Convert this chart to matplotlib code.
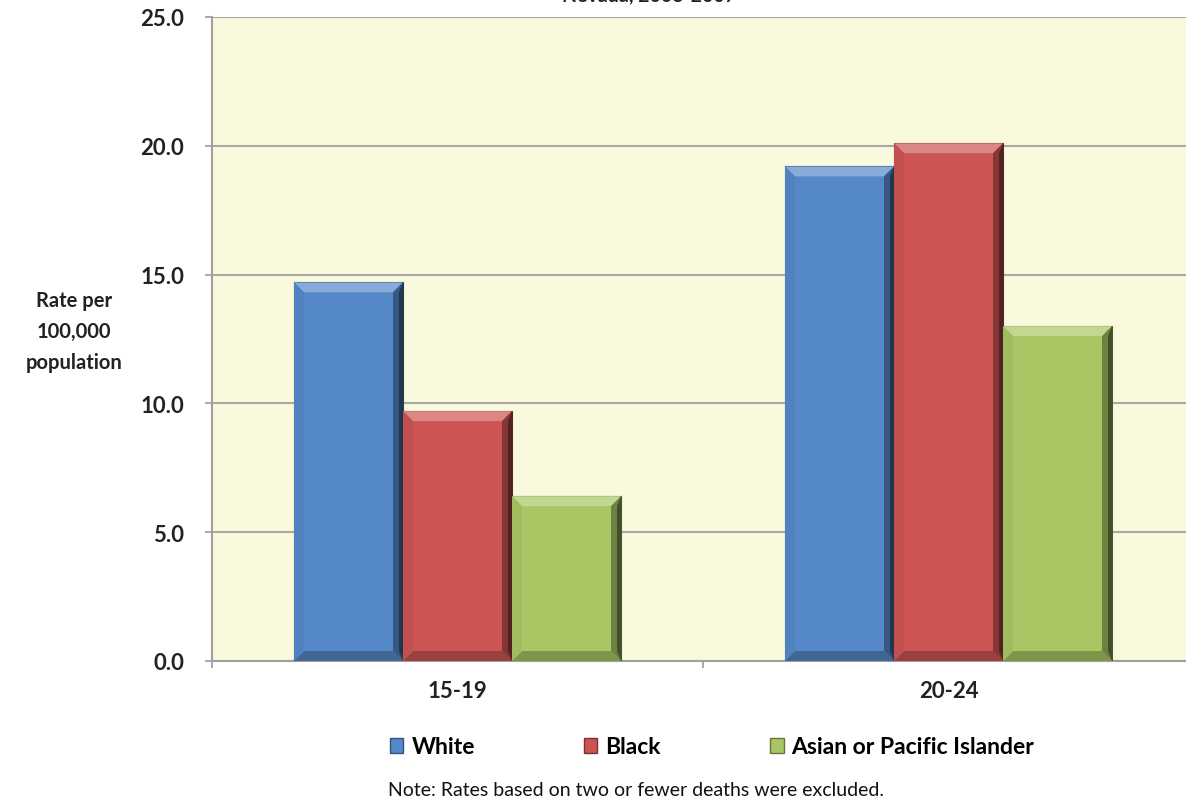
import numpy as np
import matplotlib
matplotlib.use('Agg')
import matplotlib.pyplot as plt
from matplotlib.patches import Polygon, Patch
from matplotlib import colors as mcolors

plt.rcParams['font.family'] = ['Lato', 'DejaVu Sans']

# data
age_groups = ['15-19', '20-24']
races = ['White', 'Black', 'Asian or Pacific Islander']
white = [14.7, 19.2]
black = [9.7, 20.1]
asian = [6.4, 13.0]
series = [white, black, asian]
bar_colors = ['#5588c8', '#cc5452', '#a8c663']
yticks = [0, 5, 10, 15, 20, 25]

fig = plt.figure(figsize=(11.86, 8.04), dpi=100)
ax = fig.add_axes([212/1186, 1-662/804, 982/1186, 644/804])
ax.set_facecolor('#f9f9de')
ax.set_xlim(-0.5, 1.5)
ax.set_ylim(0, 25)

x = np.arange(len(age_groups))
w = 0.222

def shade(c, f):
    r = np.array(mcolors.to_rgb(c))
    if f > 0:
        return tuple(r + (1 - r) * f)
    return tuple(r * (1 + f))

# bevel size in pixels -> data units
fig.canvas.draw()
p0 = ax.transData.transform((0, 0))
p1 = ax.transData.transform((1, 1))
bx = 10 / (p1[0] - p0[0])
by = 10 / (p1[1] - p0[1])
sx = 4 / (p1[0] - p0[0])

for i, vals in enumerate(series):
    c = bar_colors[i]
    bars = ax.bar(x + (i - 1) * w, vals, w, color=c, zorder=3,
                  edgecolor=shade(c, -0.55), linewidth=0.8)
    for b in bars:
        x0, y0 = b.get_x(), b.get_y()
        x1, y1 = x0 + b.get_width(), y0 + b.get_height()
        pieces = [
            ([(x0, y1), (x1, y1), (x1 - bx, y1 - by), (x0 + bx, y1 - by)], shade(c, 0.3)),
            ([(x1, y1), (x1, y0), (x1 - bx, y0 + by), (x1 - bx, y1 - by)], shade(c, -0.35)),
            ([(x0, y0), (x1, y0), (x1 - bx, y0 + by), (x0 + bx, y0 + by)], shade(c, -0.25)),
            ([(x0, y1), (x0, y0), (x0 + bx, y0 + by), (x0 + bx, y1 - by)], shade(c, -0.05)),
            ([(x1 - sx, y1 - by), (x1 - sx, y0 + by), (x1, y0), (x1, y1)], shade(c, -0.6)),
        ]
        for pts, col in pieces:
            ax.add_patch(Polygon(pts, closed=True, facecolor=col, edgecolor='none', zorder=4))

ax.set_yticks(yticks)
ax.set_yticklabels(['%.1f' % t for t in yticks])
ax.yaxis.grid(True, color='#a9a9a0', linewidth=1.5, zorder=0)
ax.set_axisbelow(True)
ax.set_xticks(x)
ax.set_xticklabels(age_groups)
ax.set_xticks([-0.5, 0.5, 1.5], minor=True)
ax.tick_params(axis='x', which='major', length=0, pad=14, labelsize=16)
ax.tick_params(axis='x', which='minor', length=5, width=1.2, color='#999999')
ax.tick_params(axis='y', length=5, width=1.2, color='#999999', pad=15, labelsize=16)
for lab in ax.get_xticklabels() + ax.get_yticklabels():
    lab.set_fontweight('bold')
    lab.set_color('#222222')
for s in ['top', 'right']:
    ax.spines[s].set_visible(False)
for s in ['left', 'bottom']:
    ax.spines[s].set_color('#a0a0a0')
    ax.spines[s].set_linewidth(1.5)

fig.text(74/1186, 1-332/804, 'Rate per\n100,000\npopulation', ha='center', va='center',
         fontsize=14.5, fontweight='bold', color='#222222', linespacing=1.7)

fig.text(649/1186, 1-1/804, 'Nevada, 2003-2007', ha='center', va='baseline',
         fontsize=14, fontweight='bold', color='#222222')

handles = [Patch(facecolor=c, edgecolor=shade(c, -0.4)) for c in bar_colors]
fig.legend(handles, races, loc='center', bbox_to_anchor=(712/1186, 1-748/804), ncol=3,
           frameon=False, handlelength=0.6, handleheight=0.6,
           handletextpad=0.35, columnspacing=4.75, prop={'weight': 'bold', 'size': 16.5})

fig.text(636/1186, 1-791/804, 'Note: Rates based on two or fewer deaths were excluded.',
         ha='center', va='center', fontsize=14, color='#111111')

fig.savefig('out.png', dpi=100)
